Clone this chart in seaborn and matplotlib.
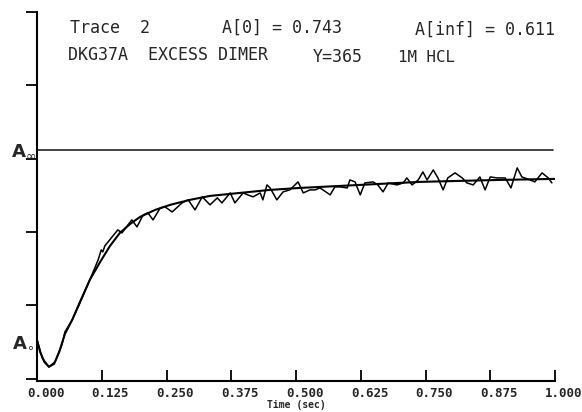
import numpy as np
import pandas as pd
import matplotlib
matplotlib.use("Agg")
import matplotlib.pyplot as plt
import matplotlib.transforms as mtransforms
import seaborn as sns

# ---------------- data ----------------
# fitted curve: time (sec) and signal (arbitrary units, 1 unit = one y tick)
fit_t = [0.000, 0.006, 0.014, 0.023, 0.033, 0.043, 0.054, 0.068, 0.083, 0.102,
         0.122, 0.141, 0.160, 0.180, 0.199, 0.228, 0.257, 0.295, 0.334, 0.392,
         0.450, 0.508, 0.585, 0.662, 0.739, 0.817, 0.894, 1.000]
fit_y = [0.531, 0.368, 0.232, 0.163, 0.204, 0.368, 0.613, 0.804, 1.049, 1.349,
         1.594, 1.812, 1.989, 2.112, 2.207, 2.302, 2.371, 2.439, 2.493, 2.534,
         2.575, 2.602, 2.629, 2.657, 2.684, 2.698, 2.711, 2.725]

# measured trace
trace_t = [0.000, 0.010, 0.023, 0.035, 0.048, 0.054, 0.068, 0.083, 0.102, 0.118,
           0.124, 0.127, 0.131, 0.156, 0.164, 0.183, 0.193, 0.205, 0.214, 0.224,
           0.238, 0.247, 0.261, 0.280, 0.292, 0.305, 0.319, 0.334, 0.348, 0.357,
           0.373, 0.382, 0.398, 0.407, 0.417, 0.431, 0.436, 0.444, 0.450, 0.463,
           0.475, 0.488, 0.504, 0.514, 0.527, 0.537, 0.546, 0.552, 0.566, 0.575,
           0.585, 0.599, 0.604, 0.614, 0.624, 0.633, 0.649, 0.658, 0.668, 0.678,
           0.695, 0.707, 0.714, 0.724, 0.736, 0.745, 0.753, 0.765, 0.774, 0.784,
           0.793, 0.807, 0.821, 0.830, 0.842, 0.855, 0.865, 0.875, 0.888, 0.904,
           0.915, 0.927, 0.936, 0.952, 0.961, 0.975, 0.987, 0.994]
trace_y = [0.531, 0.286, 0.163, 0.232, 0.463, 0.640, 0.804, 1.035, 1.349, 1.621,
           1.757, 1.730, 1.812, 2.030, 1.989, 2.166, 2.071, 2.234, 2.262, 2.166,
           2.330, 2.343, 2.275, 2.398, 2.439, 2.302, 2.480, 2.371, 2.466, 2.398,
           2.534, 2.398, 2.534, 2.507, 2.480, 2.534, 2.439, 2.643, 2.602, 2.439,
           2.548, 2.575, 2.684, 2.534, 2.575, 2.575, 2.602, 2.575, 2.507, 2.616,
           2.616, 2.602, 2.711, 2.684, 2.507, 2.670, 2.684, 2.643, 2.548, 2.670,
           2.643, 2.670, 2.738, 2.643, 2.711, 2.820, 2.711, 2.847, 2.738, 2.575,
           2.738, 2.807, 2.738, 2.670, 2.643, 2.752, 2.575, 2.752, 2.738, 2.738,
           2.602, 2.875, 2.752, 2.711, 2.684, 2.807, 2.738, 2.670]

a_inf_level = 3.12
a_zero_level = 0.49

x_ticks = [0.0, 0.125, 0.25, 0.375, 0.5, 0.625, 0.75, 0.875, 1.0]
x_tick_labels = ["0.000", "0.125", "0.250", "0.375", "0.500",
                 "0.625", "0.750", "0.875", "1.000"]
y_ticks = [0, 1, 2, 3, 4, 5]

header_line1 = ["Trace  2", "A[0] = 0.743", "A[inf] = 0.611"]
header_line2 = ["DKG37A  EXCESS DIMER", "Y=365", "1M HCL"]

# ---------------- plot ----------------
sns.set_style("white")
plt.rcParams["font.family"] = ["DejaVu Sans Mono", "DejaVu Sans"]

W, H = 582, 412
fig = plt.figure(figsize=(W / 100, H / 100), dpi=100)
ax = fig.add_axes([37 / W, 1 - 381 / H, 518 / W, 369 / H])

fit_df = pd.DataFrame({"t": fit_t, "y": fit_y})
trace_df = pd.DataFrame({"t": trace_t, "y": trace_y})

sns.lineplot(data=trace_df, x="t", y="y", ax=ax, color="black", lw=1.1,
             estimator=None, sort=False)
sns.lineplot(data=fit_df, x="t", y="y", ax=ax, color="black", lw=1.5,
             estimator=None, sort=False)

ax.axhline(a_inf_level, xmin=0, xmax=0.996, color="#222222", lw=1.2)

ax.set_xlim(0, 1.0)
ax.set_ylim(-0.03, 5)

for s in ["top", "right"]:
    ax.spines[s].set_visible(False)
for s in ["left", "bottom"]:
    ax.spines[s].set_color("black")
    ax.spines[s].set_linewidth(1.5)

ax.set_yticks(y_ticks)
ax.set_yticklabels([])
ax.tick_params(axis="y", direction="out", length=8, width=1.3, color="black", left=True)

ax.set_xticks(x_ticks)
ax.set_xticklabels(x_tick_labels, fontsize=9, fontweight="bold")
ax.tick_params(axis="x", direction="in", length=8, width=1.3, color="black",
               bottom=True, pad=4)
offset = mtransforms.ScaledTranslation(-10 / 100, 0, fig.dpi_scale_trans)
for lab in ax.get_xticklabels():
    lab.set_horizontalalignment("left")
    lab.set_transform(lab.get_transform() + offset)

ax.set_xlabel("Time (sec)", fontsize=7, fontweight="bold", labelpad=0)
ax.set_ylabel("")

# header text
fs = 12
fig.text(70 / W, 1 - 28 / H, header_line1[0], fontsize=fs, va="center", ha="left")
fig.text(222 / W, 1 - 28 / H, header_line1[1], fontsize=fs, va="center", ha="left")
fig.text(415 / W, 1 - 30 / H, header_line1[2], fontsize=fs, va="center", ha="left")
fig.text(68 / W, 1 - 55 / H, header_line2[0], fontsize=fs, va="center", ha="left")
fig.text(313 / W, 1 - 57 / H, header_line2[1], fontsize=fs, va="center", ha="left")
fig.text(398 / W, 1 - 57 / H, header_line2[2], fontsize=fs * 0.95, va="center", ha="left")

# A-infinity and A-zero markers
fig.text(11 / W, 1 - 151 / H, r"$\mathbf{A}_{\infty}$", fontsize=13, va="center",
         ha="left", family="DejaVu Sans")
fig.text(12 / W, 1 - 342 / H, r"$\mathbf{A}_{\circ}$", fontsize=13, va="center",
         ha="left", family="DejaVu Sans")

fig.savefig("out.png", dpi=100, facecolor="white")
